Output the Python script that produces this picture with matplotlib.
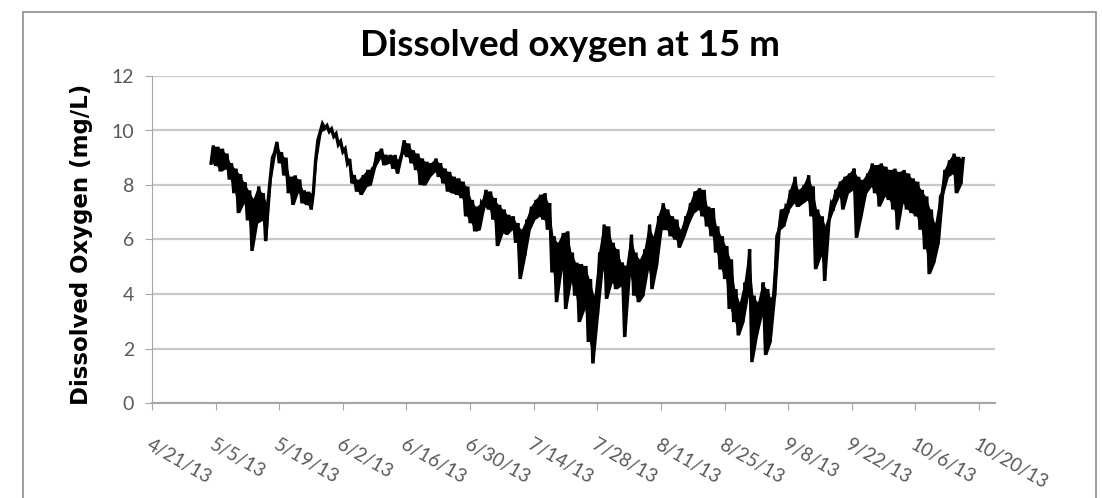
import matplotlib
matplotlib.use("Agg")
import matplotlib.pyplot as plt
import matplotlib.dates as mdates
import numpy as np
import pandas as pd

#
# dissolved oxygen at 15 m, one high and one low reading per day from 5/4/13
first_day = "2013-05-04"

do_high = [
    9.45, 9.40, 9.33, 9.15, 8.80, 8.60, 8.40, 8.10, 7.80, 7.50,
    7.95, 7.70, 7.33, 9.00, 9.58, 9.20, 9.00, 8.30, 8.35, 8.20,
    7.80, 7.75, 7.70, 9.64, 10.24, 10.18, 10.06, 9.88, 9.60, 9.33,
    8.95, 8.36, 8.18, 8.36, 8.55, 8.60, 9.20, 9.33, 9.10, 9.10,
    9.10,
    8.90, 9.64, 9.52, 9.27, 9.15, 8.97, 8.85, 8.80, 8.97, 8.80,
    8.60, 8.48, 8.30, 8.24, 8.12, 7.94, 7.45, 7.20, 7.33, 7.82,
    7.76, 7.52, 7.27, 7.10, 6.90, 6.85, 6.60, 6.36, 6.73, 7.20,
    7.45, 7.64, 7.70, 7.33, 6.12, 5.88, 6.24, 6.30, 5.52, 5.15,
    5.10, 5.03, 4.55,
    3.94, 5.52, 6.55, 6.48, 5.88, 5.64, 5.15, 5.03, 6.18, 5.52,
    5.27, 5.64, 6.55, 6.12, 6.85, 7.33, 7.10, 6.85, 6.73, 6.36,
    6.85, 7.33, 7.76, 7.88, 7.82, 7.20, 7.15, 6.48, 6.12, 5.76,
    5.27, 4.18, 3.70, 4.42, 5.64, 3.94, 3.70, 4.42, 4.18, 3.82,
    6.12, 7.10, 7.20,
    7.82, 8.30, 7.82, 8.00, 8.36, 7.94, 7.10, 6.85, 6.48, 7.33,
    7.82, 8.12, 8.30, 8.42, 8.60, 8.30, 8.18, 8.42, 8.79, 8.73,
    8.79, 8.67, 8.55, 8.60, 8.48, 8.55, 8.42, 8.24, 8.12, 7.82,
    7.58, 7.10, 6.60, 7.58, 8.55, 8.90, 9.15, 9.03, 8.97,
]

do_low = [
    8.80, 8.70, 8.50, 8.60, 8.20, 7.70, 6.97, 7.33, 6.70, 5.58,
    6.60, 6.70, 5.94, 8.20, 9.20, 8.80, 8.35, 7.70, 7.27, 7.75,
    7.33, 7.27, 7.10, 8.90, 9.94, 10.08, 9.96, 9.78, 9.48, 9.22,
    8.80, 8.06, 7.76, 7.64, 7.94, 8.00, 8.67, 8.97, 8.73, 8.80,
    8.60,
    8.42, 9.15, 9.03, 8.80, 8.55, 8.00, 8.00, 8.30, 8.48, 8.30,
    8.06, 7.76, 7.70, 7.64, 7.52, 6.85, 6.60, 6.30, 6.36, 7.20,
    7.10, 6.73, 5.76, 6.24, 6.18, 6.36, 5.88, 4.55, 5.40, 6.36,
    6.73, 6.85, 6.73, 6.36, 4.79, 3.70, 4.90, 3.45, 4.42, 3.94,
    2.97, 3.45, 2.24,
    1.45, 3.20, 4.90, 3.82, 4.42, 4.18, 4.30, 2.42, 4.67, 3.94,
    3.70, 3.94, 4.90, 4.18, 5.03, 6.36, 6.36, 6.12, 6.00, 5.70,
    6.12, 6.60, 6.97, 7.10, 6.85, 6.48, 6.12, 5.52, 4.90, 4.55,
    3.45, 2.97, 2.48, 2.97, 3.94, 1.50, 2.48, 3.20, 1.76, 2.24,
    3.94, 6.36, 6.50,
    7.10, 7.33, 7.20, 7.33, 7.45, 6.85, 4.91, 5.39, 4.48, 6.73,
    7.20, 7.58, 7.10, 7.70, 7.82, 6.06, 6.85, 7.70, 7.94, 7.70,
    7.21, 7.58, 7.45, 7.10, 6.36, 7.33, 7.10, 6.97, 6.85, 6.36,
    5.64, 4.73, 5.15, 5.88, 7.70, 8.30, 8.42, 7.70, 8.06,
]

tick_labels = ["4/21/13", "5/5/13", "5/19/13", "6/2/13", "6/16/13", "6/30/13",
               "7/14/13", "7/28/13", "8/11/13", "8/25/13", "9/8/13", "9/22/13",
               "10/6/13", "10/20/13"]
y_ticks = [0, 2, 4, 6, 8, 10, 12]

#
# low reading early in the day, high reading at midday
days = mdates.date2num(pd.date_range(first_day, periods=len(do_low), freq="D"))
t = np.empty(2 * len(days))
v = np.empty(2 * len(days))
t[0::2] = days
t[1::2] = days + 0.5
v[0::2] = do_low
v[1::2] = do_high

tick_pos = mdates.date2num(pd.to_datetime(tick_labels, format="%m/%d/%y"))

fig = plt.figure(figsize=(11.02, 4.98), dpi=100)
ax = fig.add_axes([152 / 1102, 95 / 498, 843 / 1102, 327 / 498])

# daily range shaded solid, readings drawn over it
ax.fill_between(days + 0.25, do_low, do_high, color="black", lw=0)
ax.plot(t, v, color="black", lw=2.4, solid_joinstyle="miter")

ax.set_xlim(tick_pos[0], tick_pos[0] + 185.5)
ax.set_ylim(0, 12)
ax.set_yticks(y_ticks)
ax.set_xticks(tick_pos)
ax.set_xticklabels(tick_labels, rotation=-30, ha="left", va="top",
                   rotation_mode="anchor", family="Lato", fontsize=13.5, color="#595959")
ax.set_yticklabels([str(y) for y in y_ticks], family="Lato", fontsize=14, color="#595959")
ax.tick_params(axis="x", direction="out", length=5, color="#A6A6A6", pad=19)
ax.tick_params(axis="y", direction="out", length=5, color="#A6A6A6", pad=8)

ax.grid(axis="y", color="#C8C8C8", lw=1.6)
ax.set_axisbelow(True)
for s in ["top", "right"]:
    ax.spines[s].set_visible(False)
ax.spines["left"].set_color("#A6A6A6")
ax.spines["bottom"].set_color("#A6A6A6")
ax.spines["bottom"].set_linewidth(1.5)

fig.text(570 / 1102, 1 - 45 / 498, "Dissolved oxygen at 15 m", ha="center", va="center",
         family="Lato", fontweight="bold", fontsize=26.5)
fig.text(82 / 1102, 1 - 244 / 498, "Dissolved Oxygen (mg/L)", rotation=90,
         ha="center", va="center", family="DejaVu Sans", fontweight="bold", fontsize=16.5)

# chart frame
fig.patches.append(plt.Rectangle((23 / 1102, -0.1), (1096 - 23) / 1102, 1 - 12 / 498 + 0.1,
                                 transform=fig.transFigure, fill=False, ec="#8C8C8C", lw=1.2))

fig.savefig("out.png", dpi=100)
